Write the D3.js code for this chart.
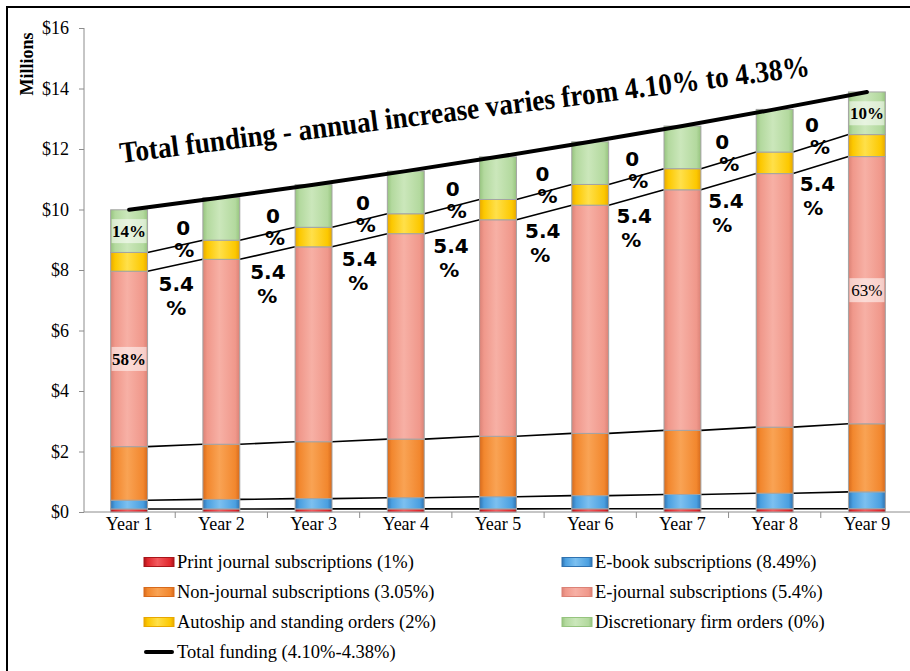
<!DOCTYPE html>
<html><head><meta charset="utf-8">
<script src="https://cdn.jsdelivr.net/npm/d3@7/dist/d3.min.js"></script>
<style>
html,body{margin:0;padding:0;background:#fff;}
svg{display:block;}
</style></head>
<body>
<svg id="chart" width="910" height="671"></svg>
<script>
// ---- data (millions of dollars) ----
const years = ["Year 1","Year 2","Year 3","Year 4","Year 5","Year 6","Year 7","Year 8","Year 9"];
const printJournals   = [0.100, 0.101, 0.102, 0.103, 0.104, 0.105, 0.106, 0.107, 0.108];
const eBooks          = [0.290, 0.315, 0.341, 0.370, 0.402, 0.436, 0.473, 0.513, 0.557];
const nonJournal      = [1.770, 1.824, 1.880, 1.937, 1.996, 2.057, 2.120, 2.185, 2.251];
const eJournals       = [5.800, 6.113, 6.443, 6.791, 7.158, 7.545, 7.952, 8.382, 8.834];
const autoship        = [0.620, 0.632, 0.645, 0.658, 0.671, 0.685, 0.698, 0.712, 0.726];
const discretionary   = [1.410, 1.410, 1.410, 1.410, 1.410, 1.410, 1.410, 1.410, 1.410];
const seriesLabels = ["Print journal subscriptions (1%)","E-book subscriptions (8.49%)",
  "Non-journal subscriptions (3.05%)","E-journal subscriptions (5.4%)",
  "Autoship and standing orders (2%)","Discretionary firm orders (0%)"];
const totalLabel = "Total funding (4.10%-4.38%)";
const yTicks = [0,2,4,6,8,10,12,14,16];
const titleText = "Total funding - annual increase varies from 4.10% to 4.38%";
// segment share labels
const shareYear   = [0, 0, 8, 8];
const shareSeries = [5, 3, 5, 3];
const shareText   = ["14%","58%","10%","63%"];
const shareBold   = [true, true, true, false];
// between-bar growth annotations
const gapUpper = ["0","%"];
const gapLower = ["5.4","%"];

// ---- styles ----
const colors = [
  {base:"#e0262c", light:"#f25a5e", dark:"#a8151a"},
  {base:"#4a9fe0", light:"#7cc0f0", dark:"#2f72b0"},
  {base:"#f2872e", light:"#f9a354", dark:"#d76a1c"},
  {base:"#f0988b", light:"#f7b0a5", dark:"#db8276"},
  {base:"#fcc800", light:"#ffe04a", dark:"#e8a800"},
  {base:"#b3d99e", light:"#cbe7bb", dark:"#96c47e"}
];

const svg = d3.select("#chart");
const serif = "'Liberation Serif','Times New Roman',serif";
const sans = "'DejaVu Sans',Verdana,sans-serif";

// frame
svg.append("rect").attr("x",7).attr("y",7).attr("width",1000).attr("height",1000)
  .attr("fill","none").attr("stroke","#000").attr("stroke-width",2);

const x = d3.scalePoint().domain(years).range([83, 913]).padding(0.5);
const step = x.step();
const barW = step * 0.4;
const y = d3.scaleLinear().domain([0,16]).range([512, 28]);

const seriesArr = [printJournals, eBooks, nonJournal, eJournals, autoship, discretionary];
const table = years.map((yr,i)=>{
  const o = {year: yr};
  seriesArr.forEach((s,k)=>{ o["s"+k] = s[i]; });
  return o;
});
const keys = seriesArr.map((s,k)=>"s"+k);
const stacked = d3.stack().keys(keys)(table);
const totals = years.map((yr,i)=>d3.sum(seriesArr, s=>s[i]));

// gradients
const defs = svg.append("defs");
colors.forEach((c,k)=>{
  const g = defs.append("linearGradient").attr("id","g"+k).attr("x1","0").attr("x2","1").attr("y1","0").attr("y2","0");
  g.append("stop").attr("offset","0").attr("stop-color",c.dark);
  g.append("stop").attr("offset","0.12").attr("stop-color",c.base);
  g.append("stop").attr("offset","0.45").attr("stop-color",c.light);
  g.append("stop").attr("offset","0.88").attr("stop-color",c.base);
  g.append("stop").attr("offset","1").attr("stop-color",c.dark);
});

// axes
const yAxisG = svg.append("g").attr("transform","translate(84,0)")
  .call(d3.axisLeft(y).tickValues(yTicks).tickSize(5).tickPadding(10).tickFormat(d=>"$"+d));
yAxisG.select(".domain").attr("stroke","#8c8c8c").attr("d","M0,28V512");
yAxisG.selectAll(".tick line").attr("stroke","#8c8c8c");
yAxisG.selectAll("text").attr("font-family",serif).attr("font-size",18).attr("fill","#000");

const xAxisG = svg.append("g").attr("transform","translate(0,512)");
xAxisG.append("line").attr("x1",84).attr("x2",913).attr("y1",0).attr("y2",0).attr("stroke","#8c8c8c");
const bounds = d3.range(years.length+1).map(i=> x(years[0]) - step/2 + i*step);
xAxisG.selectAll("line.tk").data(bounds.slice(1)).join("line").attr("class","tk")
  .attr("x1",d=>d).attr("x2",d=>d).attr("y1",0).attr("y2",6).attr("stroke","#8c8c8c");
xAxisG.selectAll("text").data(years).join("text")
  .attr("x",d=>x(d)).attr("y",18).attr("text-anchor","middle")
  .attr("font-family",serif).attr("font-size",18).text(d=>d);

// Millions label
svg.append("text").attr("transform","translate(33,64) rotate(-90)")
  .attr("text-anchor","middle").attr("font-family",serif).attr("font-weight","bold")
  .attr("font-size",18).text("Millions");

// series lines between bars (segment tops except the top one)
const lineG = svg.append("g");
stacked.slice(0,5).forEach(layer=>{
  for(let i=0;i<years.length-1;i++){
    lineG.append("line")
      .attr("x1", x(years[i])+barW/2).attr("y1", y(layer[i][1]))
      .attr("x2", x(years[i+1])-barW/2).attr("y2", y(layer[i+1][1]))
      .attr("stroke","#000").attr("stroke-width",1.6);
  }
});

// bars
const barG = svg.append("g");
stacked.forEach((layer,k)=>{
  barG.selectAll("rect.s"+k).data(layer).join("rect").attr("class","s"+k)
    .attr("x",d=>x(d.data.year)-barW/2).attr("width",barW)
    .attr("y",d=>y(d[1])).attr("height",d=>y(d[0])-y(d[1]))
    .attr("fill","url(#g"+k+")").attr("stroke","#a3a3a3").attr("stroke-width",1);
});

// total funding line
svg.append("path").datum(totals)
  .attr("d", d3.line().x((d,i)=>x(years[i])).y(d=>y(d)))
  .attr("fill","none").attr("stroke","#000").attr("stroke-width",4).attr("stroke-linecap","round");

// share labels
shareText.forEach((t,j)=>{
  const layer = stacked[shareSeries[j]][shareYear[j]];
  const cx = x(years[shareYear[j]]);
  const cy = y((layer[0]+layer[1])/2);
  svg.append("rect").attr("x",cx-barW/2+1).attr("y",cy-12).attr("width",barW-2).attr("height",24)
    .attr("fill","#fff").attr("fill-opacity",0.55);
  svg.append("text").attr("x",cx).attr("y",cy+6).attr("text-anchor","middle")
    .attr("font-family",serif).attr("font-size",17)
    .attr("font-weight",shareBold[j]?"bold":"normal").text(t);
});

// growth annotations between bars
const annG = svg.append("g").attr("font-family",sans).attr("font-weight","bold").attr("font-size",20);
for(let i=0;i<years.length-1;i++){
  const gx = (x(years[i])+x(years[i+1]))/2;
  const autoTop = (stacked[4][i][1]+stacked[4][i+1][1])/2;
  const ejTop = (stacked[3][i][1]+stacked[3][i+1][1])/2;
  annG.append("text").attr("x",gx+8-2.4*i).attr("y",y(autoTop)-18+7).attr("text-anchor","middle").text(gapUpper[0]);
  annG.append("text").attr("x",gx+9-1.4*i).attr("y",y(autoTop)+4+7).attr("text-anchor","middle").text(gapUpper[1]);
  annG.append("text").attr("x",gx+1-0.6*i).attr("y",y(ejTop)+19+7).attr("text-anchor","middle").text(gapLower[0]);
  annG.append("text").attr("x",gx+1-1.2*i).attr("y",y(ejTop)+43+7).attr("text-anchor","middle").text(gapLower[1]);
}

// title (rotated)
svg.append("text").attr("transform","translate(121,163) rotate(-7.2)")
  .attr("font-family",serif).attr("font-weight","bold").attr("font-size",30)
  .attr("textLength",695).attr("lengthAdjust","spacingAndGlyphs").text(titleText);

// legend
const legPos = [[144,562],[562,562],[144,592],[562,592],[144,622],[562,622],[144,652]];
seriesLabels.forEach((lab,k)=>{
  const [lx,ly] = legPos[k];
  svg.append("rect").attr("x",lx).attr("y",ly-4.5).attr("width",30).attr("height",9)
    .attr("fill","url(#g"+k+")").attr("stroke",colors[k].dark).attr("stroke-width",1);
  svg.append("text").attr("x",lx+33).attr("y",ly+6).attr("font-family",serif).attr("font-size",18.5).text(lab);
});
{
  const [lx,ly] = legPos[6];
  svg.append("line").attr("x1",lx+2).attr("x2",lx+28).attr("y1",ly).attr("y2",ly)
    .attr("stroke","#000").attr("stroke-width",4).attr("stroke-linecap","round");
  svg.append("text").attr("x",lx+33).attr("y",ly+6).attr("font-family",serif).attr("font-size",18.5).text(totalLabel);
}
</script>
</body></html>
